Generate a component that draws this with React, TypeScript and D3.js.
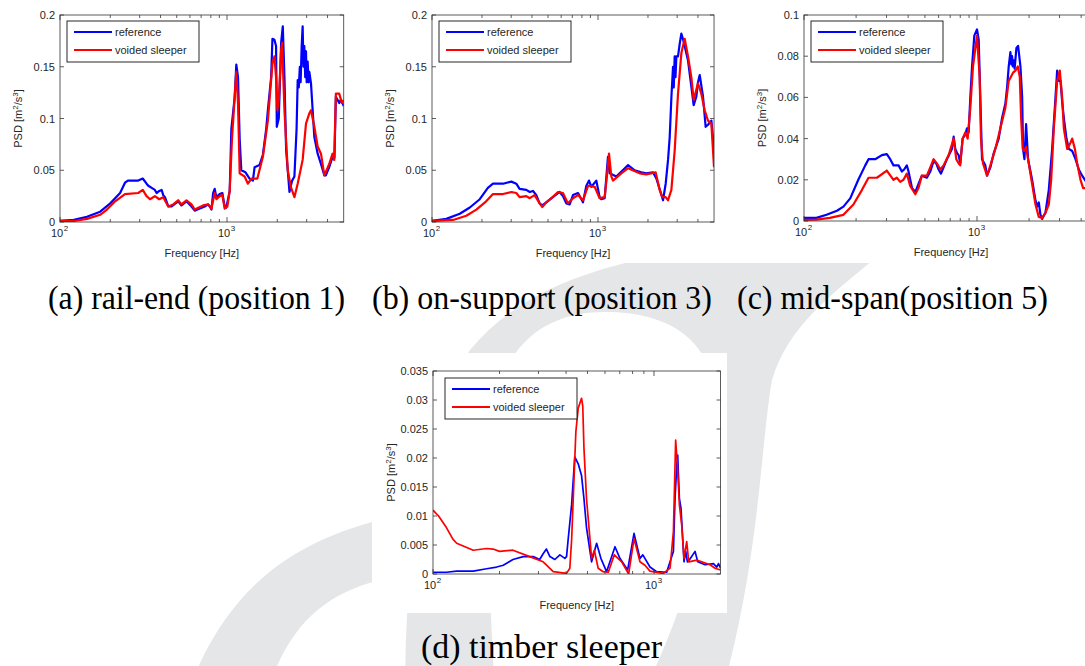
import React from 'react';
import * as d3 from 'd3';

type Pt = [number, number];

const SANS = '"Liberation Sans", Arial, Helvetica, sans-serif';
const SERIF = '"Liberation Serif", "Times New Roman", Times, serif';
const BLUE = '#0000ff';
const RED = '#ff0000';
const WATERMARK = '#e5e6e8';

// frequency [Hz], PSD [m^2/s^3]
const railEndRef: Pt[] = [
  [100, .001], [121, .002], [145, .005], [174, .010], [200, .018], [229, .028], [245, .038], [255, .040],
  [294, .040], [313, .042], [330, .037], [338, .035], [354, .033], [370, .031], [379, .028], [393, .030],
  [406, .031], [415, .026], [425, .024], [445, .015], [466, .015], [510, .020], [534, .016], [572, .020],
  [613, .015], [641, .011], [687, .013], [736, .015], [771, .017], [796, .014], [807, .012], [826, .028],
  [844, .032], [864, .024], [904, .027], [938, .028], [968, .015], [991, .014], [1038, .030], [1062, .090],
  [1111, .120], [1137, .152], [1164, .140], [1191, .080], [1218, .050], [1290, .048], [1365, .042], [1429, .040],
  [1463, .053], [1566, .055], [1640, .065], [1717, .090], [1757, .108], [1838, .140], [1871, .177], [1923, .176],
  [1967, .170], [1987, .092], [2042, .100], [2109, .173], [2158, .189], [2208, .140], [2259, .070], [2311, .050],
  [2366, .029], [2455, .040], [2533, .044], [2610, .090], [2650, .137], [2690, .130], [2730, .150], [2760, .135],
  [2800, .170], [2838, .189], [2870, .150], [2904, .170], [2940, .140], [2972, .165], [3000, .135], [3041, .155],
  [3080, .135], [3112, .145], [3184, .134], [3258, .108], [3334, .082], [3491, .066], [3653, .056], [3828, .045],
  [3908, .045], [4093, .053], [4286, .063], [4400, .062], [4487, .121], [4700, .115], [4808, .118], [5000, .112],
];
const railEndVoid: Pt[] = [
  [100, .001], [121, .001], [145, .003], [174, .007], [191, .012], [214, .020], [245, .027], [294, .028],
  [313, .031], [330, .025], [346, .022], [370, .025], [393, .022], [415, .024], [445, .015], [476, .017],
  [510, .021], [534, .017], [572, .021], [613, .017], [641, .012], [719, .016], [771, .017], [807, .013],
  [844, .028], [864, .022], [904, .025], [938, .026], [968, .013], [1005, .015], [1038, .030], [1071, .080],
  [1101, .110], [1137, .145], [1164, .115], [1191, .047], [1275, .044], [1334, .037], [1400, .042], [1520, .042],
  [1640, .063], [1757, .098], [1871, .153], [1923, .160], [1967, .140], [2004, .108], [2042, .118], [2109, .166],
  [2138, .173], [2208, .108], [2311, .050], [2410, .034], [2533, .024], [2650, .037], [2838, .060], [2972, .095],
  [3112, .105], [3184, .108], [3334, .092], [3491, .073], [3653, .066], [3828, .045], [4093, .056], [4286, .066],
  [4385, .060], [4487, .124], [4699, .124], [4874, .115], [5000, .118],
];

const onSupportRef: Pt[] = [
  [100, .001], [122, .003], [147, .008], [169, .014], [194, .022], [217, .033], [233, .037], [268, .037],
  [301, .039], [322, .037], [337, .032], [370, .031], [388, .029], [406, .030], [425, .026], [445, .018],
  [462, .016], [488, .019], [535, .024], [587, .029], [615, .025], [644, .018], [675, .017], [707, .026],
  [758, .028], [812, .019], [851, .035], [883, .040], [912, .034], [977, .040], [1023, .024], [1047, .022],
  [1097, .023], [1148, .063], [1175, .047], [1289, .044], [1450, .052], [1517, .055], [1663, .050], [1824, .048],
  [1955, .047], [2144, .048], [2246, .042], [2298, .037], [2464, .021], [2557, .037], [2642, .060], [2704, .082],
  [2767, .120], [2831, .150], [2860, .130], [2897, .160], [2930, .140], [2965, .160], [3034, .160], [3105, .172],
  [3177, .182], [3260, .176], [3327, .170], [3486, .156], [3770, .113], [3911, .121], [4002, .135], [4100, .142],
  [4292, .121], [4452, .092], [4600, .094], [4819, .098], [5000, .069],
];
const onSupportVoid: Pt[] = [
  [100, .001], [134, .002], [161, .006], [185, .012], [212, .020], [233, .027], [268, .027], [301, .029],
  [322, .028], [337, .024], [370, .025], [388, .023], [415, .026], [445, .018], [462, .0145], [488, .019],
  [523, .023], [574, .029], [615, .028], [659, .018], [707, .023], [758, .026], [812, .021], [871, .035],
  [955, .034], [1023, .023], [1097, .024], [1133, .045], [1165, .066], [1203, .044], [1231, .040], [1382, .047],
  [1517, .052], [1782, .047], [1955, .046], [2225, .048], [2352, .031], [2441, .024], [2557, .024], [2642, .021],
  [2767, .031], [2897, .069], [3034, .124], [3177, .163], [3327, .177], [3486, .160], [3650, .140], [3770, .118],
  [4002, .134], [4191, .124], [4391, .108], [4600, .098], [4819, .095], [5000, .053],
];

const midSpanRef: Pt[] = [
  [100, .0015], [118, .0015], [135, .003], [155, .005], [169, .007], [185, .011], [206, .020], [226, .027],
  [236, .030], [258, .030], [282, .032], [301, .0325], [315, .030], [329, .027], [352, .027], [368, .024],
  [379, .025], [393, .027], [402, .024], [421, .016], [440, .014], [459, .018], [480, .022], [513, .021],
  [537, .024], [561, .029], [581, .028], [600, .025], [619, .023], [641, .026], [670, .030], [716, .035],
  [733, .041], [749, .035], [766, .033], [783, .032], [800, .028], [826, .040], [856, .042], [875, .045],
  [895, .043], [915, .060], [936, .075], [965, .090], [1000, .093], [1023, .088], [1045, .060], [1069, .030],
  [1117, .027], [1143, .022], [1195, .026], [1250, .033], [1335, .040], [1396, .050], [1459, .057], [1493, .065],
  [1525, .075], [1560, .082], [1580, .076], [1595, .080], [1610, .075], [1631, .078], [1650, .074], [1690, .084],
  [1728, .085], [1783, .075], [1824, .060], [1846, .035], [1880, .030], [1922, .047], [1973, .030], [2082, .020],
  [2178, .010], [2226, .007], [2276, .009], [2327, .003], [2378, .001], [2487, .004], [2600, .015], [2719, .035],
  [2843, .060], [2906, .073], [2971, .068], [3038, .068], [3106, .058], [3176, .050], [3290, .040], [3395, .035],
  [3549, .034], [3710, .030], [3878, .025], [4054, .022], [4204, .020], [4500, .016],
];
const midSpanVoid: Pt[] = [
  [100, .0005], [118, .0007], [141, .0015], [169, .003], [193, .008], [216, .015], [236, .021], [264, .021],
  [301, .0245], [329, .020], [344, .021], [360, .019], [376, .020], [393, .023], [411, .017], [440, .013],
  [459, .016], [480, .022], [513, .022], [537, .026], [561, .030], [586, .028], [614, .025], [641, .027],
  [686, .032], [733, .040], [759, .030], [783, .028], [800, .027], [826, .040], [856, .043], [883, .040],
  [915, .055], [948, .075], [1000, .090], [1036, .070], [1054, .040], [1083, .028], [1143, .022], [1195, .027],
  [1277, .035], [1365, .045], [1459, .055], [1525, .068], [1616, .072], [1667, .073], [1721, .075], [1767, .070],
  [1799, .050], [1838, .035], [1880, .034], [1922, .036], [1965, .031], [2082, .018], [2178, .008], [2276, .002],
  [2378, .0015], [2487, .004], [2600, .008], [2684, .020], [2780, .045], [2906, .068], [3010, .073], [3106, .060],
  [3176, .045], [3320, .035], [3471, .038], [3549, .040], [3680, .035], [3793, .028], [3965, .020], [4108, .016],
  [4240, .016], [4500, .014],
];

const timberRef: Pt[] = [
  [100, .0003], [115, .0003], [128, .0005], [152, .0005], [175, .0009], [194, .0012], [208, .0015], [230, .0025],
  [256, .0030], [284, .0030], [304, .0025], [315, .0035], [326, .0043], [338, .0030], [356, .0025], [375, .0033],
  [395, .0027], [402, .0030], [409, .0060], [424, .0120], [438, .0202], [454, .0190], [470, .0170], [482, .0130],
  [495, .0080], [513, .0040], [522, .0021], [550, .0053], [575, .0027], [610, .0004], [666, .0047], [701, .0027],
  [760, .0007], [812, .0070], [864, .0027], [890, .0033], [959, .0012], [1028, .0004], [1141, .0003], [1224, .0039],
  [1245, .0130], [1268, .0188], [1280, .0205], [1290, .0170], [1303, .0130], [1325, .0113], [1343, .0073], [1367, .0021],
  [1392, .0039], [1416, .0021], [1450, .0025], [1534, .0039], [1577, .0021], [1702, .0016], [1857, .0018], [1923, .0012],
  [1958, .0018], [2000, .0010],
];
const timberVoid: Pt[] = [
  [100, .0110], [106, .0100], [115, .0080], [123, .0060], [128, .0053], [152, .0041], [175, .0044], [187, .0043],
  [200, .0039], [230, .0041], [274, .0030], [315, .0021], [350, .0004], [402, .0001], [416, .0010], [424, .0060],
  [443, .0245], [454, .0286], [470, .0303], [476, .0290], [482, .0217], [495, .0130], [522, .0027], [537, .0041],
  [559, .0010], [589, .0004], [621, .0003], [661, .0033], [714, .0021], [768, .0000], [812, .0061], [864, .0021],
  [910, .0015], [959, .0005], [1102, .0001], [1182, .0010], [1224, .0073], [1253, .0231], [1276, .0188], [1303, .0119],
  [1335, .0084], [1367, .0027], [1406, .0056], [1436, .0021], [1561, .0024], [1794, .0016], [1889, .0010], [2000, .0007],
];

const ticksA = [0, 0.05, 0.1, 0.15, 0.2];
const ticksC = [0, 0.02, 0.04, 0.06, 0.08, 0.1];
const ticksD = [0, 0.005, 0.01, 0.015, 0.02, 0.025, 0.03, 0.035];
const decadeTicks = [100, 1000];
const seriesNames = ['reference', 'voided sleeper'];
const captions = ['(a) rail-end (position 1)', '(b) on-support (position 3)', '(c) mid-span(position 5)', '(d) timber sleeper'];

interface PanelProps {
  id: string;
  left: number;
  top: number;
  decade: number;
  height: number;
  fMax: number;
  yMax: number;
  yTicks: number[];
  refData: Pt[];
  voidData: Pt[];
  lw: number;
  legendDx: number;
  legendDy: number;
}

function Panel(p: PanelProps) {
  const right = p.left + p.decade * Math.log10(p.fMax / 100);
  const bottom = p.top + p.height;
  const x = d3.scaleLog().domain([100, p.fMax]).range([p.left, right]);
  const y = d3.scaleLinear().domain([0, p.yMax]).range([bottom, p.top]);
  const line = d3.line<Pt>().x(d => x(d[0])).y(d => y(d[1]));
  const fmt = d3.format('~g');

  const minor: number[] = [];
  decadeTicks.forEach(dec => {
    for (let k = 2; k <= 9; k++) if (k * dec < p.fMax) minor.push(k * dec);
  });

  const lx = p.left + p.legendDx;
  const ly = p.top + p.legendDy;
  const tc = '#262626';

  return (
    <g>
      <defs>
        <clipPath id={p.id}>
          <rect x={p.left} y={p.top} width={right - p.left} height={p.height} />
        </clipPath>
      </defs>
      <rect x={p.left} y={p.top} width={right - p.left} height={p.height} fill="#fff" />
      <g clipPath={`url(#${p.id})`} fill="none" strokeLinejoin="round">
        <path d={line(p.refData) || ''} stroke={BLUE} strokeWidth={p.lw} />
        <path d={line(p.voidData) || ''} stroke={RED} strokeWidth={p.lw} />
      </g>
      <rect x={p.left} y={p.top} width={right - p.left} height={p.height} fill="none" stroke="#333" strokeWidth={0.8} />
      {/* y ticks */}
      {p.yTicks.map(t => (
        <g key={'y' + t}>
          <line x1={p.left} x2={p.left + 4} y1={y(t)} y2={y(t)} stroke="#333" strokeWidth={0.8} />
          <line x1={right} x2={right - 4} y1={y(t)} y2={y(t)} stroke="#333" strokeWidth={0.8} />
          <text x={p.left - 5} y={y(t) + 4} textAnchor="end" fontSize={11} fill={tc}>{fmt(t)}</text>
        </g>
      ))}
      {/* x ticks */}
      {minor.map(f => (
        <g key={'m' + f}>
          <line x1={x(f)} x2={x(f)} y1={bottom} y2={bottom - 3} stroke="#333" strokeWidth={0.8} />
          <line x1={x(f)} x2={x(f)} y1={p.top} y2={p.top + 3} stroke="#333" strokeWidth={0.8} />
        </g>
      ))}
      {decadeTicks.map(f => (
        <g key={'M' + f}>
          <line x1={x(f)} x2={x(f)} y1={bottom} y2={bottom - 5} stroke="#333" strokeWidth={0.8} />
          <line x1={x(f)} x2={x(f)} y1={p.top} y2={p.top + 5} stroke="#333" strokeWidth={0.8} />
          <text x={x(f) - 3} y={bottom + 15} textAnchor="middle" fontSize={11} fill={tc}>10</text>
          <text x={x(f) + 6} y={bottom + 9} textAnchor="middle" fontSize={8} fill={tc}>{Math.round(Math.log10(f))}</text>
        </g>
      ))}
      <text x={(p.left + right) / 2} y={bottom + 35} textAnchor="middle" fontSize={11} fill={tc}>Frequency [Hz]</text>
      <text transform={`translate(${p.left - 38},${(p.top + bottom) / 2}) rotate(-90)`} textAnchor="middle" fontSize={11} fill={tc}>
        PSD [m<tspan fontSize={8} dy={-4}>2</tspan><tspan dy={4}>/s</tspan><tspan fontSize={8} dy={-4}>3</tspan><tspan dy={4}>]</tspan>
      </text>
      {/* legend */}
      <rect x={lx} y={ly} width={132} height={41} fill="#fff" stroke="#111" strokeWidth={0.9} />
      {seriesNames.map((name, i) => (
        <g key={name}>
          <line x1={lx + 7} x2={lx + 45} y1={ly + 11 + i * 18} y2={ly + 11 + i * 18} stroke={i === 0 ? BLUE : RED} strokeWidth={2} />
          <text x={lx + 48} y={ly + 15 + i * 18} fontSize={11} fill={tc}>{name}</text>
        </g>
      ))}
    </g>
  );
}

export default function App() {
  const capPos = [
    { x: 48, y: 309, w: 297 },
    { x: 372, y: 309, w: 340 },
    { x: 737, y: 309, w: 311 },
    { x: 421, y: 658, w: 241 },
  ];
  return (
    <div style={{ position: 'absolute', left: 0, top: 0 }}>
      <svg width={1085} height={666} fontFamily={SANS} style={{ display: 'block', background: '#fff' }}>
        {/* watermark behind the pasted figures */}
        <path
          d="M 405 700 C 405 560, 420 430, 470 350 C 520 290, 600 262, 700 250 L 890 245 C 840 290, 790 320, 772 380 C 760 450, 760 560, 720 700 L 640 700 C 690 600, 716 500, 716 410 C 716 340, 670 312, 605 312 C 540 312, 500 350, 492 420 C 485 500, 490 600, 495 700 Z"
          fill={WATERMARK}
        />
        <path d="M 185 700 C 220 600, 280 545, 380 520 L 380 580 C 320 595, 285 630, 265 700 Z" fill={WATERMARK} />
        <rect x={0} y={0} width={1085} height={263} fill="#fff" />
        <rect x={372} y={353} width={355} height={260} fill="#fff" />

        <Panel id="ca" left={60} top={15} decade={167} height={207} fMax={5000} yMax={0.2} yTicks={ticksA}
          refData={railEndRef} voidData={railEndVoid} lw={2.2} legendDx={7} legendDy={6} />
        <Panel id="cb" left={432} top={15} decade={166} height={207} fMax={5000} yMax={0.2} yTicks={ticksA}
          refData={onSupportRef} voidData={onSupportVoid} lw={2.2} legendDx={7} legendDy={6} />
        <Panel id="cc" left={804} top={15} decade={173} height={206} fMax={5000} yMax={0.1} yTicks={ticksC}
          refData={midSpanRef} voidData={midSpanVoid} lw={2.2} legendDx={7} legendDy={6} />
        <Panel id="cd" left={433} top={371} decade={221} height={203} fMax={2000} yMax={0.035} yTicks={ticksD}
          refData={timberRef} voidData={timberVoid} lw={1.7} legendDx={12} legendDy={7} />

        <g fontFamily={SERIF} fontSize={34} fill="#000">
          {captions.map((c, i) => (
            <text key={c} x={capPos[i].x} y={capPos[i].y} textLength={capPos[i].w} lengthAdjust="spacingAndGlyphs">{c}</text>
          ))}
        </g>
      </svg>
    </div>
  );
}
